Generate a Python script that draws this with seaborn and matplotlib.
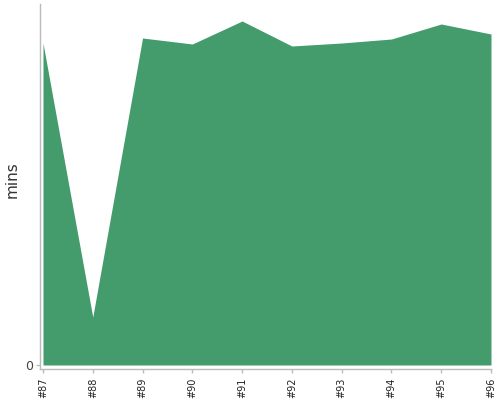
import matplotlib
matplotlib.use("Agg")
import matplotlib.pyplot as plt
import seaborn as sns
import pandas as pd

builds = ["#87", "#88", "#89", "#90", "#91", "#92", "#93", "#94", "#95", "#96"]
mins = [32.2, 4.8, 32.7, 32.1, 34.4, 31.9, 32.2, 32.6, 34.1, 33.1]

df = pd.DataFrame({"build": builds, "mins": mins, "pos": range(len(builds))})

sns.set_theme(style="white")
plt.rcParams['font.family'] = ['DejaVu Sans']

fig = plt.figure(figsize=(5, 4), dpi=100)
ax = fig.add_axes([0.08, 0.0775, 0.902, 0.9125])

color = "#449c6d"
sns.lineplot(data=df, x="pos", y="mins", ax=ax, color=color, linewidth=0)
ax.fill_between(df["pos"], 0, df["mins"], color=color, linewidth=0)

ax.set_xlim(-0.06, len(builds) - 1)
ax.set_ylim(-0.4, 36.1)
ax.set_xticks(df["pos"])
ax.set_xticklabels(builds, rotation=90, fontsize=7, color="#222222")
ax.set_yticks([0])
ax.set_yticklabels(["0"], fontsize=9, color="#444444")
ax.set_xlabel("")
ax.set_ylabel("mins", fontsize=11, color="#333333")
ax.yaxis.set_label_coords(-0.046, 0.52)

for s in ["top", "right"]:
    ax.spines[s].set_visible(False)
for s in ["left", "bottom"]:
    ax.spines[s].set_color("#bbbbbb")
    ax.spines[s].set_linewidth(1)

ax.tick_params(axis="x", bottom=True, length=3, width=1, color="#bbbbbb", pad=3)
ax.tick_params(axis="y", left=True, length=3, width=1, color="#bbbbbb", pad=2)

fig.savefig("out.png", dpi=100)
